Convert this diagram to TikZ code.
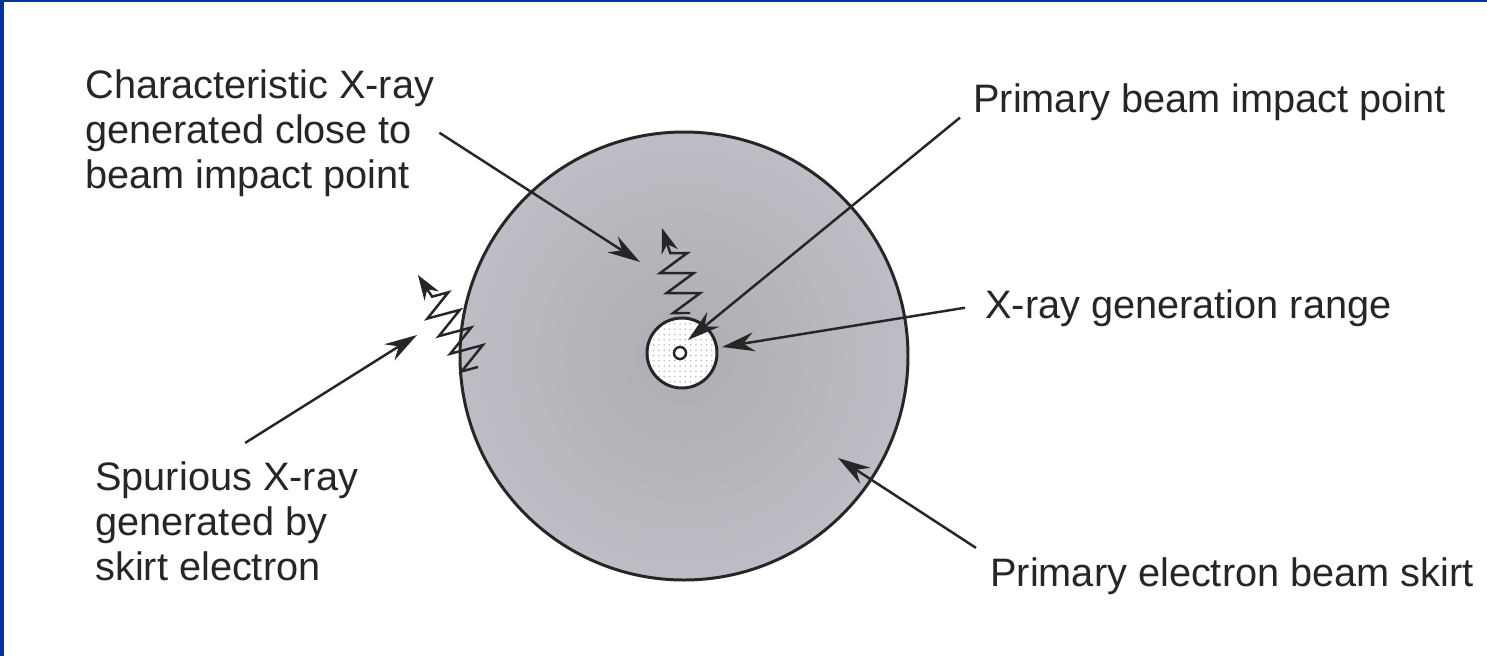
\documentclass[tikz,border=0pt]{standalone}
\usepackage{fontspec}
\setmainfont{Liberation Sans}
\usetikzlibrary{arrows.meta,decorations.pathmorphing,patterns}
\definecolor{frameblue}{HTML}{0033A0}
\definecolor{skirtgray}{HTML}{BEBDC5}
\definecolor{skirtcore}{HTML}{AEADB2}
\definecolor{inkgray}{HTML}{262626}

\begin{document}
\begin{tikzpicture}[
  >={Stealth[length=6.5mm, width=3.8mm, inset=2.2mm]},
  font=\fontsize{22.6}{25.6}\selectfont,
  label/.style={align=left, inner sep=0pt, text=inkgray, anchor=base west},
  pointer/.style={->, line width=1.4pt, draw=inkgray},
  xray/.style={-{Stealth[length=5mm, width=3.4mm, inset=1.6mm]}, line width=1.4pt, draw=inkgray, decorate, decoration={zigzag, segment length=4.2mm, amplitude=3.2mm, post length=4.5mm}},
  rim/.style={circle, draw=inkgray, line width=1.7pt, inner sep=0pt}
]
\useasboundingbox (-13.68,-6.00) rectangle (16.06,7.12);
\fill[white] (-13.68,-6.00) rectangle (16.06,7.12);
\fill[frameblue] (-13.68,-6.00) rectangle (-13.60,7.12);
\fill[frameblue] (-13.68,7.08) rectangle (16.06,7.12);

\node[rim, minimum size=8.96cm, inner color=skirtcore, outer color=skirtgray] (skirt) at (0,0) {};
\node[rim, minimum size=1.40cm, preaction={fill=white}, pattern=dots, pattern color=gray!55] (range) at (-0.04,0.06) {};
\node[rim, minimum size=0.24cm, line width=1.4pt, fill=white] (impact) at (-0.08,0.06) {};

\coordinate (charfrom) at (0.12,0.86);
\coordinate (charto) at (-0.44,2.56);
\coordinate (spurfrom) at (-4.12,-0.22);
\coordinate (spurto) at (-5.32,1.62);
\draw[xray] (charfrom) -- (charto);
\draw[xray] (spurfrom) -- (spurto);

\node[label] (charlabel) at (-11.98,3.36) {Characteristic X-ray\\generated close to\\beam impact point};
\node[label] (impactlabel) at (5.78,4.88) {Primary beam impact point};
\node[label] (rangelabel) at (6.02,0.76) {X-ray generation range};
\node[label] (skirtlabel) at (6.12,-4.60) {Primary electron beam skirt};
\node[label] (spuriouslabel) at (-11.78,-4.48) {Spurious X-ray\\generated by\\skirt electron};

\coordinate (chartip) at (-0.88,1.88);
\coordinate (impacttip) at (0.08,0.32);
\coordinate (rangetip) at (0.76,0.18);
\coordinate (skirttip) at (3.08,-2.04);
\coordinate (spurioustip) at (-5.34,0.42);

\draw[pointer] ([xshift=1mm]charlabel.east) -- (chartip);
\draw[pointer] ([shift={(-0.26,0.06)}]impactlabel.south west) -- (impacttip);
\draw[pointer] ([xshift=-0.4cm]rangelabel.west) -- (rangetip);
\draw[pointer] ([shift={(-0.28,0.18)}]skirtlabel.north west) -- (skirttip);
\draw[pointer] ([shift={(0.37,0.36)}]spuriouslabel.north) -- (spurioustip);
\end{tikzpicture}
\end{document}
